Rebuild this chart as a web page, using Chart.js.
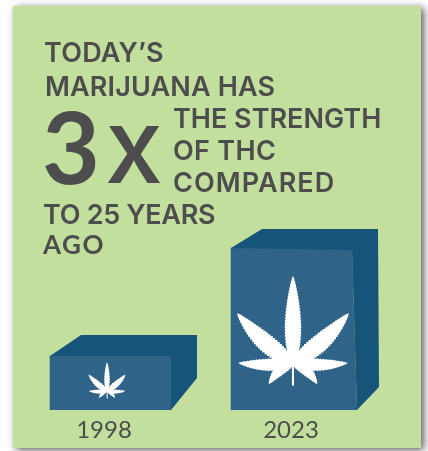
<!DOCTYPE html>
<html>
<head>
<meta charset="utf-8">
<style>
html,body{margin:0;padding:0;background:#fff}
#wrap{position:relative;width:428px;height:451px}
</style>
<script src="https://cdn.jsdelivr.net/npm/chart.js@4/dist/chart.umd.min.js"></script>
</head>
<body>
<div id="wrap"><canvas id="c" width="428" height="451"></canvas></div>
<script>
// THC strength, relative to the 1998 level
const years = ['1998', '2023'];
const strength = [1, 3];

const FRONT = '#2f6387';
const DARK = '#17547a';
const INK = '#4d4d4d';
const GREEN = '#c3df9e';

// Poster heading: [text, left, baseline, font, letter spacing]
const HEAD = '600 27px Inter, sans-serif';
const heading = [
  ['TODAY\u2019S', 44, 62, HEAD, '0.2px'],
  ['MARIJUANA HAS', 45, 96, HEAD, '0.15px'],
  ['THE STRENGTH', 173, 128, HEAD, '0px'],
  ['OF THC', 173, 160, HEAD, '0.3px'],
  ['COMPARED', 173, 192, HEAD, '1.05px'],
  ['TO 25 YEARS', 43, 224, HEAD, '-0.3px'],
  ['AGO', 43, 254, '700 26px Lato, sans-serif', '1.6px'],
  ['3', 42, 184, '700 100px Lato, sans-serif', '0px'],
  ['x', 105, 183, '500 104px Inter, sans-serif', '0px']
];

// Card behind everything, with its soft drop shadow
const cardPlugin = {
  id: 'card',
  beforeDraw(chart) {
    const { ctx, scales: { x } } = chart;
    ctx.save();
    ctx.shadowColor = 'rgba(0,0,0,0.65)';
    ctx.shadowBlur = 8;
    ctx.shadowOffsetX = 3;
    ctx.shadowOffsetY = 2;
    ctx.fillStyle = GREEN;
    ctx.fillRect(13, 6, 408, 442);
    ctx.restore();
    // year labels sit slightly left of their blocks
    const nudge = chart.options.plugins.blocks.labelNudge;
    x.getLabelItems().forEach((item, i) => {
      item.options.translation[0] = x.getPixelForTick(i) + nudge[i];
    });
  }
};

const headingPlugin = {
  id: 'heading',
  afterDraw(chart) {
    const { ctx } = chart;
    ctx.save();
    ctx.fillStyle = INK;
    ctx.textAlign = 'left';
    ctx.textBaseline = 'alphabetic';
    heading.forEach(([text, left, base, font, spacing]) => {
      ctx.font = font;
      ctx.letterSpacing = spacing;
      ctx.fillText(text, left, base);
    });
    ctx.restore();
  }
};

// One serrated leaflet running from the hub along +x of the current transform
function leaflet(ctx, len, wid, bend) {
  const teeth = Math.max(6, Math.round(len / 3));
  const edge = (t, side) => {
    const w = (wid / 2) * Math.pow(Math.sin(Math.PI * Math.pow(t, 0.75)), 0.75);
    const tooth = (Math.round(t * teeth * 2) % 2) ? 0.86 : 1;
    const dip = bend * 4 * t * (1 - t);
    return [t * len, dip + side * w * tooth];
  };
  ctx.beginPath();
  ctx.moveTo(0, 0);
  for (let i = 1; i <= teeth * 2; i++) { const p = edge(i / (teeth * 2), -1); ctx.lineTo(p[0], p[1]); }
  for (let i = teeth * 2 - 1; i >= 0; i--) { const p = edge(i / (teeth * 2), 1); ctx.lineTo(p[0], p[1]); }
  ctx.closePath();
  ctx.fill();
}

function drawLeaf(ctx, cx, cy, unit) {
  // [direction in degrees, length, width, bend], for a unit-length centre leaflet
  const parts = [
    [-90, 1, 0.2, 0],
    [-138.3, 0.86, 0.22, -0.035], [-41.7, 0.86, 0.22, 0.035],
    [-180, 0.63, 0.15, -0.02], [0, 0.63, 0.15, 0.02],
    [139, 0.37, 0.13, 0.035], [41, 0.37, 0.13, -0.035]
  ];
  ctx.save();
  ctx.fillStyle = '#fff';
  parts.forEach(([deg, len, wid, bend]) => {
    ctx.save();
    ctx.translate(cx, cy);
    ctx.rotate(deg * Math.PI / 180);
    leaflet(ctx, len * unit, wid * unit, bend * unit);
    ctx.restore();
  });
  ctx.fillRect(cx - unit * 0.012, cy, Math.max(1, unit * 0.024), unit * 0.26);
  ctx.restore();
}

// Extrudes each bar into a block and stamps the leaf on its front
const blocksPlugin = {
  id: 'blocks',
  afterDatasetsDraw(chart, args, o) {
    const { ctx } = chart;
    const meta = chart.getDatasetMeta(0);
    const base = chart.scales.y.getPixelForValue(0);
    ctx.save();
    meta.data.forEach((bar, i) => {
      const x0 = bar.x - bar.width / 2;
      const x1 = bar.x + bar.width / 2;
      const top = bar.y;
      const back = top - o.depth[i];
      const frontRight = top + o.tilt[i];
      const bottomRight = x1 + o.flare[i];
      ctx.fillStyle = FRONT;
      ctx.beginPath();
      ctx.moveTo(x1, frontRight);
      ctx.lineTo(bottomRight, base);
      ctx.lineTo(x1, base);
      ctx.closePath();
      ctx.fill();
      ctx.fillStyle = DARK;
      ctx.beginPath();
      ctx.moveTo(x0, top);
      ctx.lineTo(x0 + 31, back);
      ctx.lineTo(x1 + 26, back);
      ctx.lineTo(x1 + 26 + o.lean[i], base - o.rise[i]);
      ctx.lineTo(bottomRight, base);
      ctx.lineTo(x1, frontRight);
      ctx.closePath();
      ctx.fill();
      drawLeaf(ctx, bar.x + o.leafX[i], base - o.leafY[i], o.leafUnit * strength[i]);
    });
    ctx.restore();
  }
};

new Chart(document.getElementById('c'), {
  type: 'bar',
  data: {
    labels: years,
    datasets: [{
      data: strength,
      backgroundColor: FRONT,
      barThickness: 121,
      borderWidth: 0
    }]
  },
  options: {
    responsive: false,
    animation: false,
    layout: { padding: { left: 20, right: 46, top: 194, bottom: 0 } },
    plugins: {
      legend: { display: false },
      tooltip: { enabled: false },
      blocks: {
        depth: [21, 19], tilt: [0, 2], flare: [0, 5], lean: [0, 1], rise: [32, 23],
        leafX: [-3.5, 1.5], leafY: [19, 47], leafUnit: 29,
        labelNudge: [-6.5, -0.5]
      }
    },
    scales: {
      x: {
        grid: { display: false },
        border: { display: false },
        afterFit(scale) { scale.height = 41; },
        ticks: {
          color: INK,
          padding: -2,
          maxRotation: 0,
          font: { family: 'Lato, sans-serif', size: 24 }
        }
      },
      y: { display: false, min: 0, max: 4 }
    }
  },
  plugins: [cardPlugin, blocksPlugin, headingPlugin]
});
</script>
</body>
</html>
